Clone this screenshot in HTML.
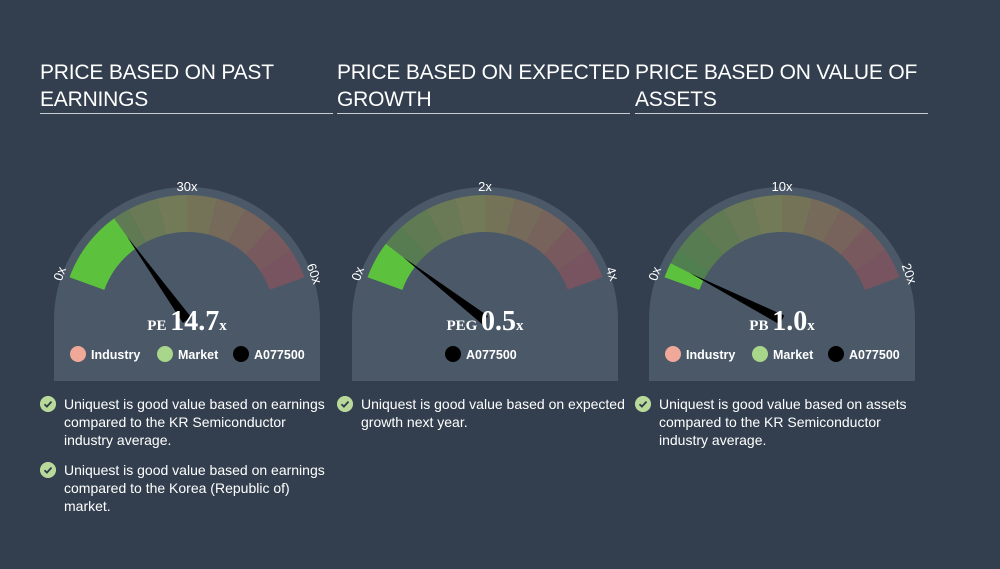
<!DOCTYPE html>
<html><head><meta charset="utf-8"><style>
body{margin:0;width:1000px;height:569px;background:#333f4e;font-family:"Liberation Sans",sans-serif;color:#fff;overflow:hidden;position:relative}
.title{position:absolute;top:59px;width:296px;font-size:21px;letter-spacing:-0.2px;line-height:27px;color:#fff;border-bottom:1px solid #c9cdd2;padding-bottom:0px;white-space:normal}
.bullet{position:absolute;font-size:14px;line-height:18px;color:#fff;width:270px}
.chk{position:absolute;left:-24px;top:1px;width:16px;height:16px;border-radius:50%;background:#b8d99a;border:0}
svg{position:absolute;left:0;top:0}
</style></head><body>
<div class="title" style="left:40px;width:293px">PRICE BASED ON PAST EARNINGS</div>
<div class="title" style="left:337px;width:293px">PRICE BASED ON EXPECTED<br>GROWTH</div>
<div class="title" style="left:635px;width:293px">PRICE BASED ON VALUE OF ASSETS</div>
<svg id="g" width="1000" height="569"></svg>
<div class="bullet" style="left:64px;top:395px"><svg class="chk" width="16" height="16" style="left:-24px;top:1px"><circle cx="8" cy="8" r="8" fill="#b8d99a"/><path d="M4.5 8.2l2.4 2.4 4.6-5" stroke="#2d3a48" stroke-width="1.8" fill="none"/></svg>Uniquest is good value based on earnings compared to the KR Semiconductor industry average.</div>
<div class="bullet" style="left:64px;top:461px"><svg class="chk" width="16" height="16" style="left:-24px;top:1px"><circle cx="8" cy="8" r="8" fill="#b8d99a"/><path d="M4.5 8.2l2.4 2.4 4.6-5" stroke="#2d3a48" stroke-width="1.8" fill="none"/></svg>Uniquest is good value based on earnings compared to the Korea (Republic of) market.</div>
<div class="bullet" style="left:361px;top:395px"><svg class="chk" width="16" height="16" style="left:-24px;top:1px"><circle cx="8" cy="8" r="8" fill="#b8d99a"/><path d="M4.5 8.2l2.4 2.4 4.6-5" stroke="#2d3a48" stroke-width="1.8" fill="none"/></svg>Uniquest is good value based on expected growth next year.</div>
<div class="bullet" style="left:659px;top:395px"><svg class="chk" width="16" height="16" style="left:-24px;top:1px"><circle cx="8" cy="8" r="8" fill="#b8d99a"/><path d="M4.5 8.2l2.4 2.4 4.6-5" stroke="#2d3a48" stroke-width="1.8" fill="none"/></svg>Uniquest is good value based on assets compared to the KR Semiconductor industry average.</div>
<script>
const gaugeLabels=["PE","PEG","PB"];
const gaugeValues=[14.7,0.5,1.0];
const gaugeMax=[60,4,20];
const tickMid=["30x","2x","10x"];
const tickMax=["60x","4x","20x"];
const showLegend=[true,false,true];
const cxs=[187,485,782], CY=320;
const NS="http://www.w3.org/2000/svg", svg=document.getElementById('g');
function mk(t,a,p){const e=document.createElementNS(NS,t);for(const k in a)e.setAttribute(k,a[k]);(p||svg).appendChild(e);return e;}
function pt(cx,r,deg){const a=deg*Math.PI/180;return [cx+r*Math.cos(a),CY-r*Math.sin(a)];}
function arc(cx,r0,r1,a0,a1){const p1=pt(cx,r1,a0),p2=pt(cx,r1,a1),p3=pt(cx,r0,a1),p4=pt(cx,r0,a0);
return `M${p1}L${p1}A${r1},${r1} 0 0 1 ${p2}L${p3}A${r0},${r0} 0 0 0 ${p4}Z`;}
const dim=[[80,128,80],[88,124,82],[96,122,84],[106,122,86],[114,122,88],[116,115,88],[118,106,90],[120,98,92],[120,90,94],[120,84,96]];
function ang(v,m){return 160-Math.min(v/m,1)*140;}
gaugeValues.forEach((v,i)=>{
 const cx=cxs[i];
 const d=mk('path',{d:`M${cx-133},381 L${cx-133},${CY} A133,133 0 0 1 ${cx+133},${CY} L${cx+133},381Z`,fill:'#4a5868'});
 
 for(let s=0;s<10;s++){const c=dim[s];const seg=mk('path',{d:arc(cx,88,125,160-s*14,160-(s+1)*14),fill:`rgb(${c})`});
 }
 const av=ang(v,gaugeMax[i]);
 const lit=mk('path',{d:arc(cx,88,125,160,av),fill:'#5cc13d'});
 
 const t=pt(cx,103,av),a=(av)*Math.PI/180,px=Math.sin(a)*5,py=Math.cos(a)*5;
 const nd=mk('path',{d:`M${t}L${cx+px},${CY+py}L${cx-px},${CY-py}Z`,fill:'#000'});
 
 const l0=pt(cx,131,160),lm=pt(cx,131,90),l1=pt(cx,131,20);
 const t0=mk('text',{x:l0[0],y:l0[1],fill:'#fff','font-size':13,'text-anchor':'middle',transform:`rotate(-70 ${l0[0]} ${l0[1]})`});t0.textContent='0x';
 
 const tm=mk('text',{x:lm[0],y:lm[1]+2,fill:'#fff','font-size':13,'text-anchor':'middle'});tm.textContent=tickMid[i];
 
 const t1=mk('text',{x:l1[0],y:l1[1],fill:'#fff','font-size':13,'text-anchor':'middle',transform:`rotate(70 ${l1[0]} ${l1[1]})`});t1.textContent=tickMax[i];
 
 const vt=mk('text',{x:cx,y:330,fill:'#fff','text-anchor':'middle','font-family':'Liberation Serif,serif','font-weight':'bold'});
 
 vt.innerHTML=`<tspan font-size="15">${gaugeLabels[i]} </tspan><tspan font-size="28">${v.toFixed(1)}</tspan><tspan font-size="15">x</tspan>`;
 const items=showLegend[i]?[['Industry','#f0a898',-109],['Market','#a8d68a',-22],['A077500','#000',54]]:[['A077500','#000',-32]];
 items.forEach(([n,c,o])=>{const g=mk('g',{});
 mk('circle',{cx:cx+o,cy:354,r:8,fill:c},g);const tx=mk('text',{x:cx+o+13,y:359,fill:'#fff','font-size':12.5,'font-weight':'bold'},g);tx.textContent=n;});
});
</script>
</body></html>
